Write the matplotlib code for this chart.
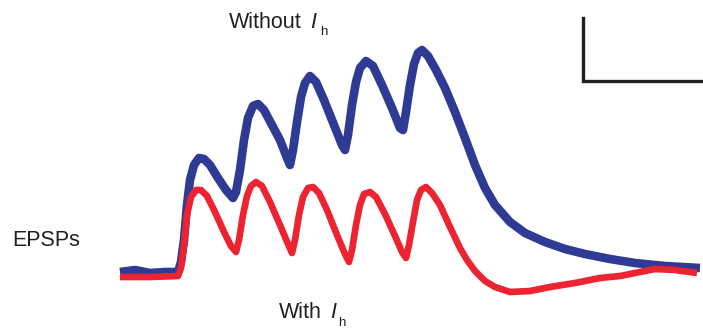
import numpy as np
import matplotlib
matplotlib.use('Agg')
import matplotlib.pyplot as plt

plt.rcParams['font.family'] = ['Liberation Sans', 'DejaVu Sans']

# traces (time, deflection; screen units, y grows downward)
t_blue = [120, 135, 150, 165, 178, 181, 184, 187, 190, 194, 199, 204, 210, 218, 226,
          233, 236, 240, 244, 248, 253, 258, 264, 272, 280, 287, 290, 293, 297, 301,
          305, 310, 316, 324, 334, 342, 345, 348, 352, 356, 360, 366, 373, 382, 392,
          400, 403, 406, 410, 414, 418, 422, 428, 436, 445, 455, 465, 475, 485, 495,
          510, 525, 545, 565, 585, 610, 635, 665, 700]
v_blue = [272, 270, 273, 272, 272, 262, 240, 205, 180, 165, 158, 159, 165, 178, 190,
          198, 192, 170, 140, 118, 106, 104, 110, 125, 140, 158, 165, 150, 122, 97,
          83, 76, 82, 100, 125, 145, 150, 135, 105, 82, 68, 61, 66, 85, 108,
          128, 130, 112, 85, 64, 53, 50, 56, 70, 88, 112, 138, 165, 188, 205,
          222, 233, 242, 249, 254, 259, 263, 266, 268]

t_red = [120, 150, 178, 181, 184, 187, 191, 196, 201, 207, 215, 224, 231, 236, 239,
         243, 247, 251, 256, 262, 270, 280, 288, 292, 295, 299, 303, 308, 313, 319,
         327, 337, 345, 349, 352, 356, 360, 364, 370, 376, 385, 395, 402, 406, 409,
         413, 417, 421, 426, 432, 440, 450, 460, 467, 475, 485, 495, 510, 530, 550,
         575, 600, 620, 640, 655, 675, 697]
v_red = [277, 277, 276, 268, 245, 215, 197, 190, 190, 196, 212, 232, 246, 252, 240,
         215, 196, 186, 182, 186, 202, 225, 244, 253, 240, 215, 197, 188, 187, 193,
         210, 235, 254, 262, 250, 225, 205, 194, 192, 197, 214, 236, 252, 258, 245,
         222, 200, 190, 187, 193, 205, 227, 248, 260, 271, 281, 287, 292, 291, 287,
         283, 278, 276, 272, 269, 270, 273]

# scale bar corner and ends
bar_x = [583, 583, 701]
bar_y = [18, 81, 81]

fig = plt.figure(figsize=(7.03, 3.31), dpi=100)
ax = fig.add_axes([0, 0, 1, 1])
ax.set_xlim(0, 703)
ax.set_ylim(331, 0)
ax.axis('off')

ax.plot(t_blue, v_blue, color='#2e3a94', lw=6.2, solid_joinstyle='round', solid_capstyle='butt')
ax.plot(t_red, v_red, color='#ec2330', lw=4.8, solid_joinstyle='round', solid_capstyle='butt')
ax.plot(bar_x, bar_y, color='#231f20', lw=2.4, solid_joinstyle='miter')

txt = dict(color='#231f20', va='baseline')
ax.text(229, 28, 'Without', fontsize=15.5, ha='left', **txt)
ax.text(310, 28, 'I', fontsize=15.5, style='italic', ha='left', **txt)
ax.text(320, 35, 'h', fontsize=9.5, ha='left', **txt)
ax.text(279, 318, 'With', fontsize=15.5, ha='left', **txt)
ax.text(330, 318, 'I', fontsize=15.5, style='italic', ha='left', **txt)
ax.text(338, 326, 'h', fontsize=9.5, ha='left', **txt)
ax.text(12, 246, 'EPSPs', fontsize=15.5, ha='left', **txt)

fig.savefig('out.png', dpi=100)
